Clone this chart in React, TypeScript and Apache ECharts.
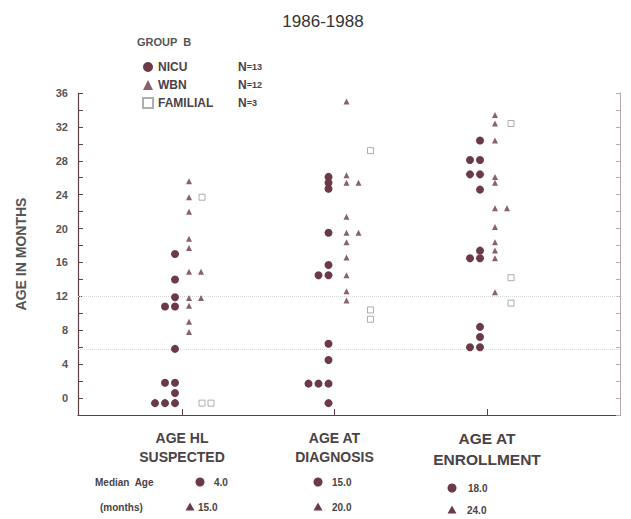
import React, { useEffect, useRef } from 'react';
import * as echarts from 'echarts';

// ---- data ----
const CATEGORIES = ['AGE HL\nSUSPECTED', 'AGE AT\nDIAGNOSIS', 'AGE AT\nENROLLMENT'];

const NICU_SUSPECTED = [17, 14, 11.9, 10.8, 10.8, 5.8, 1.8, 1.8, 0.6, -0.6, -0.6, -0.6];
const NICU_DIAGNOSIS = [26.1, 25.4, 24.7, 19.5, 15.7, 14.5, 14.5, 6.4, 4.5, 1.7, 1.7, 1.7, -0.6];
const NICU_ENROLLMENT = [30.4, 28.1, 28.1, 26.4, 26.4, 24.6, 17.4, 16.5, 16.5, 8.4, 7.2, 6.0, 6.0];

const WBN_SUSPECTED = [25.6, 23.7, 22.0, 18.8, 17.7, 14.9, 14.9, 11.8, 11.8, 10.9, 9.0, 7.8];
const WBN_DIAGNOSIS = [35.0, 26.3, 25.4, 25.4, 21.4, 19.5, 19.5, 18.4, 16.6, 14.5, 12.6, 11.5];
const WBN_ENROLLMENT = [33.4, 32.4, 30.4, 26.1, 25.4, 22.4, 22.4, 20.2, 18.4, 17.4, 16.5, 12.5];

const FAM_SUSPECTED = [23.7, -0.6, -0.6];
const FAM_DIAGNOSIS = [29.2, 10.4, 9.3];
const FAM_ENROLLMENT = [32.4, 14.2, 11.2];

const LEGEND_NAMES = ['NICU', 'WBN', 'FAMILIAL'];
const LEGEND_N = ['13', '12', '3'];

const MEDIAN_NICU = ['4.0', '15.0', '18.0'];
const MEDIAN_WBN = ['15.0', '20.0', '24.0'];

const Y_TICK_LABELS = ['0', '4', '8', '12', '16', '20', '24', '28', '32', '36'];
const GUIDE_LINES = [12, 5.8];

// ---- layout (pixels of horizontal jitter inside a category column) ----
const PX_PER_CAT = 152.5;
const LAYOUT = {
  nicu: { base: [-7, -6, -7], step: -10 },
  wbn: { base: [7, 12, 8], step: 12 },
  fam: { base: [20, 36, 24], step: 9 },
};

function place(groups: number[][], base: number[], step: number) {
  const out: number[][] = [];
  groups.forEach((vals, ci) => {
    const seen = new Map<number, number>();
    vals.forEach((v) => {
      const k = seen.get(v) || 0;
      seen.set(v, k + 1);
      out.push([ci + (base[ci] + step * k) / PX_PER_CAT, v]);
    });
  });
  return out;
}

const INK = '#6a3a47';
const TEXT = '#4a4246';
const AXIS = '#5e4148';
const FONT = '"Liberation Sans", Arial, sans-serif';

export default function App() {
  const ref = useRef<HTMLDivElement>(null);

  useEffect(() => {
    if (!ref.current) return;
    const chart = echarts.init(ref.current, undefined, { renderer: 'svg' });

    const nicuData = place([NICU_SUSPECTED, NICU_DIAGNOSIS, NICU_ENROLLMENT], LAYOUT.nicu.base, LAYOUT.nicu.step);
    const wbnData = place([WBN_SUSPECTED, WBN_DIAGNOSIS, WBN_ENROLLMENT], LAYOUT.wbn.base, LAYOUT.wbn.step);
    const famData = place([FAM_SUSPECTED, FAM_DIAGNOSIS, FAM_ENROLLMENT], LAYOUT.fam.base, LAYOUT.fam.step);

    const medCols = [
      { c: [200, 482], ct: 214, t: [190, 507], tt: 198 },
      { c: [318, 482], ct: 332, t: [318, 507], tt: 332 },
      { c: [452, 488], ct: 468, t: [452, 510], tt: 467 },
    ];
    const medText = { fontSize: 10, fontFamily: FONT, fill: TEXT, fontWeight: 'bold' as const };

    const graphics: any[] = [
      { type: 'text', x: 137, y: 36, style: { text: 'GROUP  B', fontSize: 11, fontWeight: 'bold', fontFamily: FONT, fill: '#555' } },
      { type: 'text', x: 95, y: 477, style: { text: 'Median  Age', ...medText } },
      { type: 'text', x: 100, y: 502, style: { text: '(months)', ...medText } },
    ];
    medCols.forEach((m, i) => {
      graphics.push({ type: 'circle', shape: { cx: m.c[0], cy: m.c[1], r: 4.5 }, style: { fill: INK } });
      graphics.push({ type: 'text', x: m.ct, y: m.c[1] - 5, style: { text: MEDIAN_NICU[i], ...medText } });
      graphics.push({
        type: 'polygon',
        shape: { points: [[m.t[0], m.t[1] - 4.5], [m.t[0] - 4.5, m.t[1] + 3.5], [m.t[0] + 4.5, m.t[1] + 3.5]] },
        style: { fill: INK },
      });
      graphics.push({ type: 'text', x: m.tt, y: m.t[1] - 5, style: { text: MEDIAN_WBN[i], ...medText } });
    });

    const catLabel = (v: number) => {
      const i = Math.round(v);
      const [a, b] = CATEGORIES[i].split('\n');
      const s = i === 2 ? 'c' : 'a';
      return `{${s}|${a}}\n{${s}|${b}}`;
    };

    chart.setOption({
      animation: false,
      backgroundColor: '#fff',
      textStyle: { fontFamily: FONT },
      title: {
        text: '1986-1988',
        left: 318,
        top: 8,
        textAlign: 'center',
        textStyle: { fontSize: 17, fontWeight: 'normal', color: '#333', fontFamily: FONT },
      },
      legend: {
        orient: 'vertical',
        left: 137,
        top: 55,
        itemWidth: 10,
        itemHeight: 10,
        itemGap: 4,
        data: [
          { name: LEGEND_NAMES[0], icon: 'circle' },
          { name: LEGEND_NAMES[1], icon: 'triangle' },
          { name: LEGEND_NAMES[2], icon: 'rect' },
        ],
        formatter: (name: string) => {
          const i = LEGEND_NAMES.indexOf(name);
          return `{a|${name}}{b|N}{c|=${LEGEND_N[i]}}`;
        },
        textStyle: {
          lineHeight: 14,
          rich: {
            a: { width: 80, fontSize: 12, fontWeight: 'bold', color: TEXT, fontFamily: FONT },
            b: { fontSize: 12, fontWeight: 'bold', color: TEXT, fontFamily: FONT },
            c: { fontSize: 9, fontWeight: 'bold', color: TEXT, fontFamily: FONT },
          },
        },
      },
      grid: { left: 78, right: 11, top: 93, bottom: 104 },
      xAxis: {
        type: 'value',
        min: -0.682,
        max: 2.872,
        axisLine: { show: true, onZero: false, lineStyle: { color: AXIS, width: 1.2 } },
        axisTick: { show: true, inside: true, length: 6, customValues: [0, 1, 2], lineStyle: { color: AXIS } },
        axisLabel: {
          customValues: [0, 1, 2],
          margin: 13,
          formatter: catLabel,
          rich: {
            a: { fontSize: 14, fontWeight: 'bold', color: TEXT, fontFamily: FONT, lineHeight: 19, align: 'center' },
            c: { fontSize: 15.5, fontWeight: 'bold', color: TEXT, fontFamily: FONT, lineHeight: 21, align: 'center' },
          },
        },
        splitLine: { show: false },
      },
      yAxis: [
        {
          type: 'value',
          min: -2,
          max: 36,
          interval: 2,
          name: 'AGE IN MONTHS',
          nameLocation: 'middle',
          nameRotate: 90,
          nameGap: 50,
          nameTextStyle: { fontSize: 14, fontWeight: 'bold', color: '#555', fontFamily: FONT },
          axisLine: { show: true, onZero: false, lineStyle: { color: AXIS, width: 1.2 } },
          axisTick: { show: true, inside: true, length: 5, lineStyle: { color: AXIS } },
          axisLabel: {
            margin: 10,
            fontSize: 11,
            fontWeight: 'bold',
            color: '#555',
            formatter: (v: number) => (Y_TICK_LABELS.includes(String(v)) ? String(v) : ''),
          },
          splitLine: { show: false },
        },
        {
          type: 'value',
          position: 'right',
          min: -2,
          max: 36,
          interval: 2,
          axisLine: { show: true, onZero: false, lineStyle: { color: '#b9a9ad', width: 1 } },
          axisTick: { show: true, inside: true, length: 4, lineStyle: { color: '#b9a9ad' } },
          axisLabel: { show: false },
          splitLine: { show: false },
        },
      ],
      series: [
        {
          name: 'guides',
          type: 'scatter',
          data: [],
          z: 1,
          markLine: {
            silent: true,
            z: 1,
            symbol: 'none',
            label: { show: false },
            lineStyle: { color: '#d9d9d9', type: 'dotted', width: 1 },
            data: GUIDE_LINES.map((y) => ({ yAxis: y })),
          },
        },
        {
          name: LEGEND_NAMES[0],
          type: 'scatter',
          symbol: 'circle',
          symbolSize: 8,
          itemStyle: { color: INK, opacity: 1 },
          data: nicuData,
          z: 3,
        },
        {
          name: LEGEND_NAMES[1],
          type: 'scatter',
          symbol: 'triangle',
          symbolSize: 6,
          itemStyle: { color: INK },
          data: wbnData,
          z: 3,
        },
        {
          name: LEGEND_NAMES[2],
          type: 'scatter',
          symbol: 'rect',
          symbolSize: 6,
          itemStyle: { color: 'rgba(0,0,0,0)', borderColor: '#9a9a9a', borderWidth: 1 },
          data: famData,
          z: 3,
        },
      ],
      graphic: graphics,
    });

    return () => chart.dispose();
  }, []);

  return <div ref={ref} style={{ width: 631, height: 519, position: 'absolute', left: 0, top: 0 }} />;
}
